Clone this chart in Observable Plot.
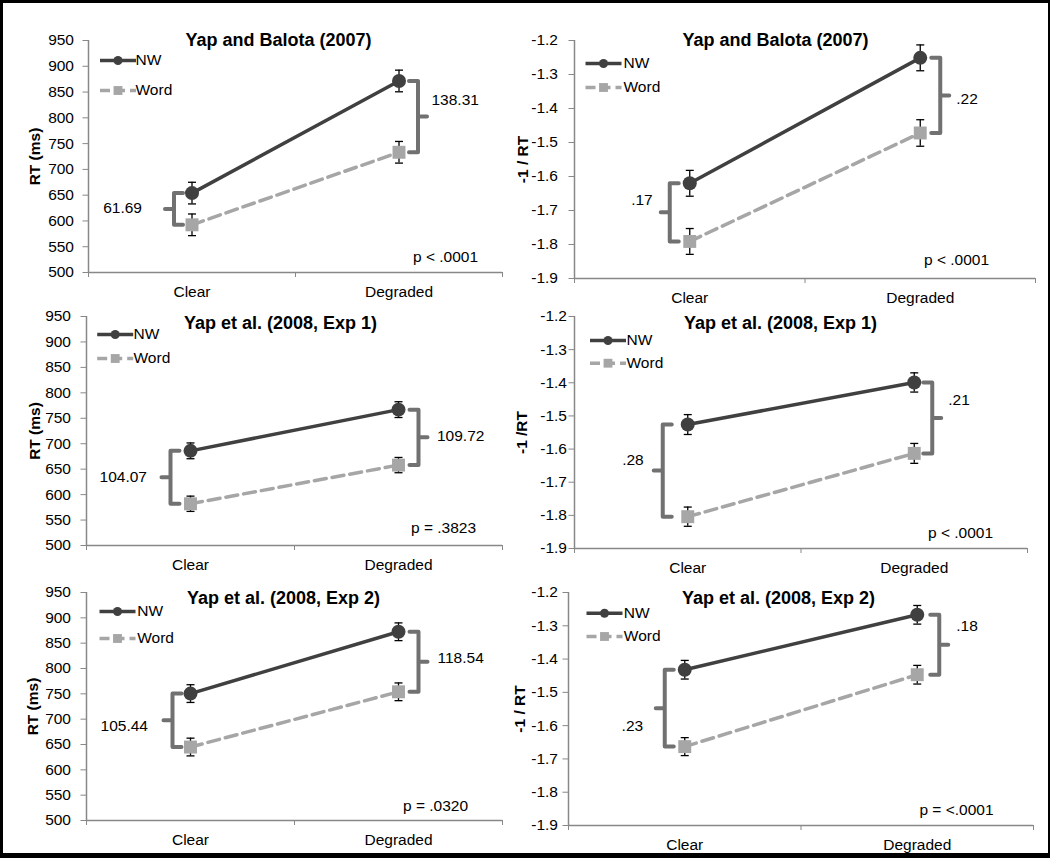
<!DOCTYPE html>
<html>
<head>
<meta charset="utf-8">
<script src="https://cdn.jsdelivr.net/npm/d3@7"></script>
<script src="https://cdn.jsdelivr.net/npm/@observablehq/plot@0.6"></script>
<style>
  html, body { margin: 0; padding: 0; background: #fff; }
  #wrap { position: relative; width: 1050px; height: 858px; overflow: hidden; background: #fff; }
  #frame { position: absolute; left: 0; top: 0; width: 1050px; height: 858px; box-sizing: border-box;
           border-style: solid; border-color: #000; border-width: 3px 2px 5px 3px; pointer-events: none; }
</style>
</head>
<body>
<div id="wrap"><div id="frame"></div></div>
<script>
// ---------------- data ----------------
const conditions = ["Clear", "Degraded"];
const panelTitles = ["Yap and Balota (2007)", "Yap and Balota (2007)",
  "Yap et al. (2008, Exp 1)", "Yap et al. (2008, Exp 1)",
  "Yap et al. (2008, Exp 2)", "Yap et al. (2008, Exp 2)"];
const yAxisLabels = ["RT (ms)", "-1 / RT", "RT (ms)", "-1 /RT", "RT (ms)", "-1 / RT"];
const rtTicks = [500, 550, 600, 650, 700, 750, 800, 850, 900, 950];
const invTicks = [-1.9, -1.8, -1.7, -1.6, -1.5, -1.4, -1.3, -1.2];
const seriesNames = ["NW", "Word"];
// means per panel: [Clear, Degraded]
const nwMeans = [[654, 871.5], [-1.620, -1.251], [686, 767], [-1.526, -1.399], [750.5, 872.5], [-1.432, -1.267]];
const wordMeans = [[592.5, 733.2], [-1.791, -1.472], [582, 658], [-1.804, -1.613], [645, 754], [-1.663, -1.447]];
const nwErrors = [[21, 21], [0.038, 0.038], [15.5, 15.5], [0.03, 0.029], [17.5, 17.5], [0.028, 0.028]];
const wordErrors = [[21, 21], [0.038, 0.039], [15, 15], [0.029, 0.03], [17.5, 17.5], [0.027, 0.028]];
const diffLabels = [["61.69", "138.31"], [".17", ".22"], ["104.07", "109.72"], [".28", ".21"], ["105.44", "118.54"], [".23", ".18"]];
const pLabels = ["p < .0001", "p < .0001", "p = .3823", "p < .0001", "p = .0320", "p = <.0001"];

// ---------------- layout / style ----------------
const NW_COLOR = "#404040", WORD_COLOR = "#a6a6a6", BRACKET_COLOR = "#717171", AXIS_COLOR = "#888888";
const layout = [
  {left: 0,   top: 0,   w: 525, h: 310, mT: 40, mB: 38, mL: 88, mR: 23, tp: 9,  tdx: -17,  tdy: 0, ydx: -53, leg: [29.5, 20, 50, 47],   p: [-57, -15],   br: [-18, 19], bl: [[-23, -1], [4.5, -17]]},
  {left: 500, top: 0,   w: 550, h: 310, mT: 40, mB: 32, mL: 74, mR: 15, tp: 11, tdx: -29.5, tdy: 0, ydx: -51, leg: [29, 23, 47, 49],     p: [-79, -18.7], br: [-20, 20], bl: [[-8, -12], [7, 4]]},
  {left: 0,   top: 280, w: 525, h: 300, mT: 36, mB: 35, mL: 86, mR: 23, tp: 10, tdx: -14,  tdy: 7, ydx: -51, leg: [28.7, 18, 42, 47],   p: [-59, -17],   br: [-20, 20], bl: [[-14.5, 0], [9.5, -1]]},
  {left: 500, top: 280, w: 550, h: 300, mT: 36, mB: 32, mL: 74, mR: 23, tp: 2,  tdx: -20.5, tdy: 7, ydx: -52, leg: [33.5, 24, 46.7, 52], p: [-67, -15.7], br: [-25, 18], bl: [[-10, -11], [7, -18]]},
  {left: 0,   top: 560, w: 525, h: 298, mT: 32, mB: 38, mL: 86, mR: 23, tp: 10, tdx: -11,  tdy: 6, ydx: -53, leg: [31, 19, 46, 50.7],   p: [-67, -14.3], br: [-18, 20], bl: [[-15.5, 6], [10, -4]]},
  {left: 500, top: 560, w: 550, h: 298, mT: 32, mB: 33, mL: 68, mR: 17, tp: 5,  tdx: -22.5, tdy: 6, ydx: -48, leg: [36, 20.7, 44, 55.3], p: [-77, -15],   br: [-20, 22], bl: [[-12.6, 18], [8, -19]]}
];

const hline = (half) => ({draw(ctx) { ctx.moveTo(-half, 0); ctx.lineTo(half, 0); }});
const FONT = "'Liberation Sans', Arial, sans-serif";

function makePanel(i) {
  const L = layout[i];
  const ticks = i % 2 === 0 ? rtTicks : invTicks;
  const fmt = i % 2 === 0 ? (d => String(d)) : (d => d.toFixed(1));
  const k = (L.w - L.mL - L.mR) / 2; // px per x unit
  const nw = conditions.map((c, j) => ({x: j + 0.5, y: nwMeans[i][j], e: nwErrors[i][j]}));
  const word = conditions.map((c, j) => ({x: j + 0.5, y: wordMeans[i][j], e: wordErrors[i][j]}));
  const all = nw.concat(word);

  // curly brackets linking the NW and Word means at each condition
  const brPts = [], brText = [];
  conditions.forEach((c, j) => {
    const side = j === 0 ? -1 : 1;
    const xc = j + 0.5;
    const xb = xc + L.br[j] / k;
    const arm = 9 / k, nub = 9 / k;
    const hi = nwMeans[i][j], lo = wordMeans[i][j], mid = (hi + lo) / 2;
    const pts = [[xb - side * arm, hi], [xb, hi], [xb, mid], [xb + side * nub, mid], [xb, mid], [xb, lo], [xb - side * arm, lo]];
    pts.forEach(([x, y]) => brPts.push({id: j, x, y}));
    brText.push({x: xb + side * nub, y: mid, text: diffLabels[i][j], anchor: side < 0 ? "end" : "start", dx: L.bl[j][0], dy: L.bl[j][1]});
  });

  const svg = Plot.plot({
    width: L.w, height: L.h,
    marginTop: L.mT, marginBottom: L.mB, marginLeft: L.mL, marginRight: L.mR,
    x: {domain: [0, 2]},
    y: {domain: [ticks[0], ticks[ticks.length - 1]]},
    style: {fontFamily: FONT, fontSize: "15.5px", color: "#000", background: "transparent", overflow: "visible"},
    marks: [
      Plot.ruleY([ticks[0]], {stroke: AXIS_COLOR, strokeWidth: 1.5}),
      Plot.ruleX([0], {stroke: AXIS_COLOR, strokeWidth: 1.5}),
      Plot.axisY({ticks, tickSize: 5.5, tickPadding: L.tp, tickFormat: fmt, stroke: AXIS_COLOR, fill: "#000", label: null}),
      Plot.axisX({ticks: [0, 1, 2], tickSize: 5, tickFormat: () => "", stroke: AXIS_COLOR, label: null}),
      Plot.axisX({ticks: [0.5, 1.5], tickSize: 0, tickPadding: 13, tickFormat: d => conditions[Math.round(d - 0.5)], fill: "#000", label: null}),
      // brackets
      Plot.line(brPts, {x: "x", y: "y", z: "id", stroke: BRACKET_COLOR, strokeWidth: 4, strokeLinejoin: "round", curve: "linear"}),
      ...brText.map(b => Plot.text([b], {x: "x", y: "y", text: "text", textAnchor: b.anchor, dx: b.dx, dy: b.dy, fill: "#000"})),
      // series lines
      Plot.line(word, {x: "x", y: "y", stroke: WORD_COLOR, strokeWidth: 3.5, strokeDasharray: "12,6"}),
      Plot.line(nw, {x: "x", y: "y", stroke: NW_COLOR, strokeWidth: 3.5}),
      // error bars
      Plot.ruleX(all, {x: "x", y1: d => d.y - d.e, y2: d => d.y + d.e, stroke: "#000", strokeWidth: 1.3}),
      Plot.dot(all, {x: "x", y: d => d.y - d.e, symbol: hline(4), stroke: "#000", strokeWidth: 1.3, fill: "none"}),
      Plot.dot(all, {x: "x", y: d => d.y + d.e, symbol: hline(4), stroke: "#000", strokeWidth: 1.3, fill: "none"}),
      // markers
      Plot.dot(word, {x: "x", y: "y", symbol: "square", r: 7.3, fill: WORD_COLOR, stroke: "none"}),
      Plot.dot(nw, {x: "x", y: "y", symbol: "circle", r: 7, fill: NW_COLOR, stroke: "none"}),
      // legend
      Plot.dot([seriesNames[0]], {frameAnchor: "top-left", dx: L.leg[0], dy: L.leg[1], symbol: hline(18), stroke: NW_COLOR, strokeWidth: 3.5, fill: "none"}),
      Plot.dot([seriesNames[0]], {frameAnchor: "top-left", dx: L.leg[0], dy: L.leg[1], symbol: "circle", r: 4.5, fill: NW_COLOR, stroke: "none"}),
      Plot.dot([seriesNames[1]], {frameAnchor: "top-left", dx: L.leg[0], dy: L.leg[2], symbol: hline(18), stroke: WORD_COLOR, strokeWidth: 3.5, strokeDasharray: "10,5", fill: "none"}),
      Plot.dot([seriesNames[1]], {frameAnchor: "top-left", dx: L.leg[0], dy: L.leg[2], symbol: "square", r: 5, fill: WORD_COLOR, stroke: "none"}),
      Plot.text([seriesNames[0]], {frameAnchor: "top-left", dx: L.leg[3], dy: L.leg[1], text: d => d, textAnchor: "start", lineAnchor: "middle", fill: "#000"}),
      Plot.text([seriesNames[1]], {frameAnchor: "top-left", dx: L.leg[3], dy: L.leg[2], text: d => d, textAnchor: "start", lineAnchor: "middle", fill: "#000"}),
      // title, y label, p value
      Plot.text([panelTitles[i]], {frameAnchor: "top", dx: L.tdx, dy: L.tdy, text: d => d, textAnchor: "middle", lineAnchor: "middle", fontWeight: "bold", fontSize: 18, fill: "#000"}),
      Plot.text([yAxisLabels[i]], {frameAnchor: "left", dx: L.ydx, text: d => d, rotate: -90, textAnchor: "middle", lineAnchor: "middle", fontWeight: "bold", fontSize: 15.5, fill: "#000"}),
      Plot.text([pLabels[i]], {frameAnchor: "bottom-right", dx: L.p[0], dy: L.p[1], text: d => d, textAnchor: "middle", lineAnchor: "middle", fill: "#000"})
    ]
  });
  svg.style.position = "absolute";
  svg.style.left = L.left + "px";
  svg.style.top = L.top + "px";
  svg.style.maxWidth = "none";
  return svg;
}

const wrap = document.getElementById("wrap");
const frame = document.getElementById("frame");
for (let i = 0; i < 6; i++) wrap.insertBefore(makePanel(i), frame);
</script>
</body>
</html>
